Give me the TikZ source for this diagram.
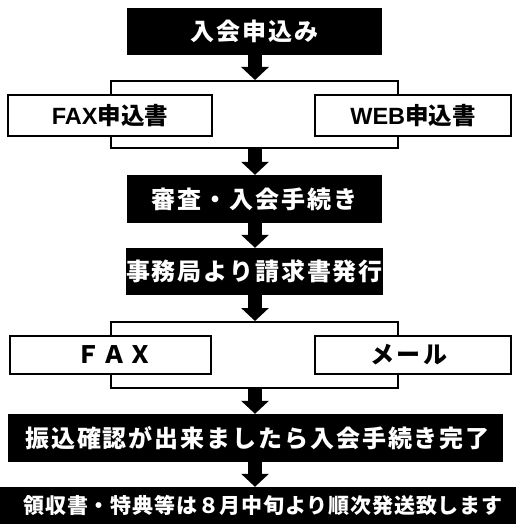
\documentclass[tikz,border=0pt]{standalone}
\usepackage{fontspec}
\setmainfont{Liberation Sans}
\newfontfamily\cjk{Noto Sans CJK JP}
\usetikzlibrary{arrows.meta}
\tikzset{
  blk/.style={fill=black, text=white, inner sep=0pt,
    font=\cjk\bfseries\fontsize{24}{24}\selectfont\addfontfeature{LetterSpace=8}},
  wbox/.style={draw=black, line width=2pt, fill=white, inner sep=0pt},
  wtxt/.style={font=\bfseries\fontsize{23.5}{23.5}\selectfont},
  wtxtb/.style={font=\cjk\bfseries\fontsize{24}{24}\selectfont\addfontfeature{LetterSpace=10}},
  brk/.style={draw=black, line width=2pt},
  arr/.style={line width=14pt, -{Triangle[width=27pt,length=13pt]}}
}
\begin{document}
\begin{tikzpicture}[x=1pt,y=-1pt]
\useasboundingbox (0,0) rectangle (516,524);
\coordinate (ax) at (255,0);
% boxes
\node[blk, minimum width=255pt, minimum height=47pt] (b1) at (254.5,31.5) {入会申込み};
\node[wbox, wtxt, minimum width=204pt, minimum height=41pt] (f1) at (110,115.5) {FAX{\cjk\bfseries 申込書}};
\node[wbox, wtxt, minimum width=196pt, minimum height=41pt] (w1) at (413,115.5) {WEB{\cjk\bfseries 申込書}};
\node[blk, minimum width=255pt, minimum height=48pt] (b2) at (254.5,199) {審査・入会手続き};
\node[blk, minimum width=255pt, minimum height=47pt] (b3) at (254.5,271.5) {事務局より請求書発行};
\node[wbox, wtxtb, minimum width=201pt, minimum height=38pt] (f2) at (110.5,355) {\hspace*{8pt}ＦＡＸ};
\node[wbox, wtxtb, minimum width=196pt, minimum height=38pt] (m2) at (413,355) {メール\hspace*{8pt}};
\node[blk, minimum width=495pt, minimum height=48pt] (b5) at (255.5,438) {\hspace*{4pt}振込確認が出来ましたら入会手続き完了};
\node[blk, minimum width=516pt, minimum height=37pt,
  font=\cjk\bfseries\fontsize{21}{21}\selectfont\addfontfeature{LetterSpace=4}] (b6) at (258,505.5) {\hspace*{10pt}領収書・特典等は８月中旬より順次発送致します};
% bracket coordinates
\coordinate (t1L) at (111,81);  \coordinate (t1R) at (398,81);
\coordinate (u1L) at (111,148); \coordinate (u1R) at (398,148);
\coordinate (t2L) at (111,322); \coordinate (t2R) at (398,322);
\coordinate (u2L) at (111,388); \coordinate (u2R) at (398,388);
\coordinate (t1) at (255,80);  \coordinate (u1) at (255,148);
\coordinate (t2) at (255,321); \coordinate (u2) at (255,388);
% brackets
\draw[brk] (f1.north -| t1L) -- (t1L) -- (t1R) -- (w1.north -| t1R);
\draw[brk] (f1.south -| u1L) -- (u1L) -- (u1R) -- (w1.south -| u1R);
\draw[brk] (f2.north -| t2L) -- (t2L) -- (t2R) -- (m2.north -| t2R);
\draw[brk] (f2.south -| u2L) -- (u2L) -- (u2R) -- (m2.south -| u2R);
% arrows
\draw[arr] (b1.south -| ax) -- (t1);
\draw[arr] (u1) -- (b2.north -| ax);
\draw[arr] (b2.south -| ax) -- (b3.north -| ax);
\draw[arr] (b3.south -| ax) -- (t2);
\draw[arr] (u2) -- (b5.north -| ax);
\draw[arr] (b5.south -| ax) -- (b6.north -| ax);
\end{tikzpicture}
\end{document}
